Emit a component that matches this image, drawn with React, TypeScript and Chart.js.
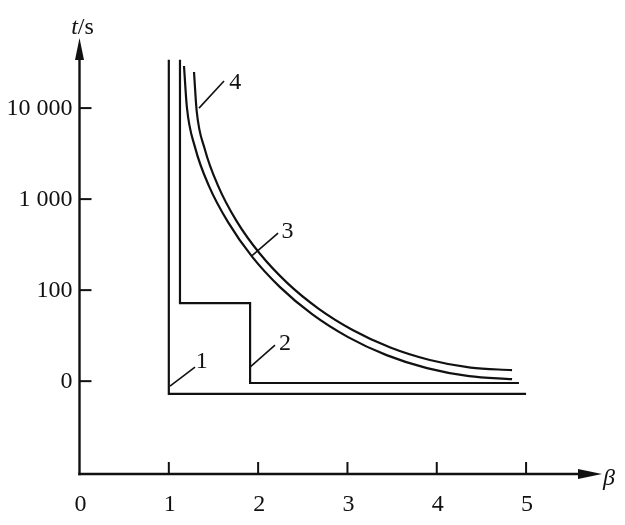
import React, { useEffect, useRef } from "react";
import { Chart, registerables } from "chart.js";

Chart.register(...registerables);

// x: β ; y: level on the stretched time axis (0 → "0", 1 → "100", 2 → "1 000", 3 → "10 000")
const xTickValues = [0, 1, 2, 3, 4, 5];
const xTickLabels = ["0", "1", "2", "3", "4", "5"];
const yTickValues = [0, 1, 2, 3];
const yTickLabels = ["0", "100", "1 000", "10 000"];

const line1X = [1.0, 1.0, 5.0];
const line1Y = [3.53, -0.14, -0.14];

const line2X = [1.125, 1.125, 1.91, 1.91, 4.92];
const line2Y = [3.53, 0.857, 0.857, -0.02, -0.02];

const curve3X = [1.17, 1.202, 1.293, 1.45, 1.663, 1.932, 2.245, 2.604, 3.007, 3.438, 3.891, 4.362, 4.843];
const curve3Y = [3.462, 3.012, 2.571, 2.143, 1.747, 1.368, 1.033, 0.736, 0.484, 0.286, 0.143, 0.055, 0.022];

const curve4X = [1.282, 1.312, 1.403, 1.553, 1.759, 2.018, 2.325, 2.675, 3.063, 3.48, 3.922, 4.379, 4.843];
const curve4Y = [3.396, 2.968, 2.548, 2.143, 1.758, 1.402, 1.08, 0.798, 0.56, 0.37, 0.233, 0.149, 0.121];

const curveNames = ["1", "2", "3", "4"];
const leaderX = [
  [1.013, 1.293],
  [1.909, 2.189],
  [1.932, 2.223],
  [1.338, 1.618],
];
const leaderY = [
  [-0.055, 0.154],
  [0.154, 0.396],
  [1.38, 1.626],
  [3.0, 3.297],
];
const nameX = [1.37, 2.3, 2.33, 1.745];
const nameY = [0.21, 0.41, 1.64, 3.28];

const X_MIN = 0;
const X_MAX = 5.85;
const Y_MIN = -1.02;
const Y_MAX = 3.77;

const INK = "#111111";
const FONT = '24px "Liberation Serif", "Times New Roman", serif';
const IFONT = 'italic 24px "Liberation Serif", "Times New Roman", serif';

const pts = (xs: number[], ys: number[]) => xs.map((x, i) => ({ x, y: ys[i] }));

const axesPlugin = {
  id: "axesPlugin",
  afterDraw(chart: any) {
    const ctx = chart.ctx as CanvasRenderingContext2D;
    const xs = chart.scales.x;
    const ys = chart.scales.y;
    const x0 = xs.getPixelForValue(0);
    const yBottom = ys.getPixelForValue(Y_MIN);
    const yTop = ys.getPixelForValue(Y_MAX);
    const xRight = xs.getPixelForValue(X_MAX);
    ctx.save();
    ctx.strokeStyle = INK;
    ctx.fillStyle = INK;
    ctx.lineWidth = 2.4;
    ctx.lineCap = "butt";
    // y axis
    ctx.beginPath();
    ctx.moveTo(x0, yBottom + 1.2);
    ctx.lineTo(x0, yTop + 18);
    ctx.stroke();
    ctx.beginPath();
    ctx.moveTo(x0, yTop);
    ctx.lineTo(x0 - 4.5, yTop + 22);
    ctx.lineTo(x0 + 4.5, yTop + 22);
    ctx.closePath();
    ctx.fill();
    // x axis
    ctx.beginPath();
    ctx.moveTo(x0 - 1.2, yBottom);
    ctx.lineTo(xRight - 18, yBottom);
    ctx.stroke();
    ctx.beginPath();
    ctx.moveTo(xRight, yBottom);
    ctx.lineTo(xRight - 24, yBottom - 5);
    ctx.lineTo(xRight - 24, yBottom + 5);
    ctx.closePath();
    ctx.fill();
    // ticks
    ctx.lineWidth = 2;
    yTickValues.forEach((v) => {
      const py = ys.getPixelForValue(v);
      ctx.beginPath();
      ctx.moveTo(x0, py);
      ctx.lineTo(x0 + 12, py);
      ctx.stroke();
    });
    xTickValues.forEach((v) => {
      if (v === 0) return;
      const px = xs.getPixelForValue(v);
      ctx.beginPath();
      ctx.moveTo(px, yBottom);
      ctx.lineTo(px, yBottom - 12);
      ctx.stroke();
    });
    // tick labels
    ctx.font = FONT;
    ctx.textBaseline = "middle";
    ctx.textAlign = "right";
    yTickValues.forEach((v, i) => {
      ctx.fillText(yTickLabels[i], x0 - 7, ys.getPixelForValue(v) + 1);
    });
    ctx.textAlign = "center";
    xTickValues.forEach((v, i) => {
      ctx.fillText(xTickLabels[i], xs.getPixelForValue(v) + 1, yBottom + 31);
    });
    // axis titles
    ctx.textAlign = "left";
    ctx.font = IFONT;
    const tW = ctx.measureText("t").width;
    ctx.font = FONT;
    const sW = ctx.measureText("/s").width;
    const startX = x0 + 3 - (tW + sW) / 2;
    ctx.font = IFONT;
    ctx.fillText("t", startX, yTop - 10);
    ctx.font = FONT;
    ctx.fillText("/s", startX + tW, yTop - 10);
    ctx.font = IFONT;
    ctx.fillText("β", xRight + 1, yBottom + 5);
    // curve numbers
    ctx.font = FONT;
    ctx.textAlign = "center";
    curveNames.forEach((n, i) => {
      ctx.fillText(n, xs.getPixelForValue(nameX[i]), ys.getPixelForValue(nameY[i]));
    });
    ctx.restore();
  },
};

export default function App() {
  const ref = useRef<HTMLCanvasElement | null>(null);
  useEffect(() => {
    if (!ref.current) return;
    let chart: Chart | null = null;
    let cancelled = false;
    const common = {
      borderColor: INK,
      borderWidth: 2.2,
      pointRadius: 0,
      fill: false,
    };
    const leaderSets = leaderX.map((lx, i) => ({
      ...common,
      borderWidth: 1.6,
      data: pts(lx, leaderY[i]),
      tension: 0,
    }));
    const build = () => {
      if (cancelled || !ref.current) return;
      chart = new Chart(ref.current, {
        type: "line",
        data: {
          datasets: [
            { ...common, data: pts(line1X, line1Y), tension: 0 },
            { ...common, data: pts(line2X, line2Y), tension: 0 },
            { ...common, data: pts(curve3X, curve3Y), cubicInterpolationMode: "monotone" },
            { ...common, data: pts(curve4X, curve4Y), cubicInterpolationMode: "monotone" },
            ...leaderSets,
          ] as any,
        },
        options: {
          animation: false,
          responsive: false,
          maintainAspectRatio: false,
          layout: { padding: { left: 79.5, right: 23, top: 38, bottom: 51 } },
          plugins: { legend: { display: false }, tooltip: { enabled: false } },
          scales: {
            x: { type: "linear", min: X_MIN, max: X_MAX, display: false },
            y: { type: "linear", min: Y_MIN, max: Y_MAX, display: false },
          },
        },
        plugins: [axesPlugin],
      });
    };
    const fonts: any = (document as any).fonts;
    if (fonts && fonts.load) {
      Promise.all([fonts.load(FONT, "10 000/s"), fonts.load(IFONT, "tβ")])
        .catch(() => null)
        .then(() => build());
    } else {
      build();
    }
    return () => {
      cancelled = true;
      if (chart) chart.destroy();
    };
  }, []);
  return (
    <div style={{ position: "absolute", left: 0, top: 0, width: 625, height: 525, background: "#fff" }}>
      <canvas ref={ref} width={625} height={525} />
    </div>
  );
}
